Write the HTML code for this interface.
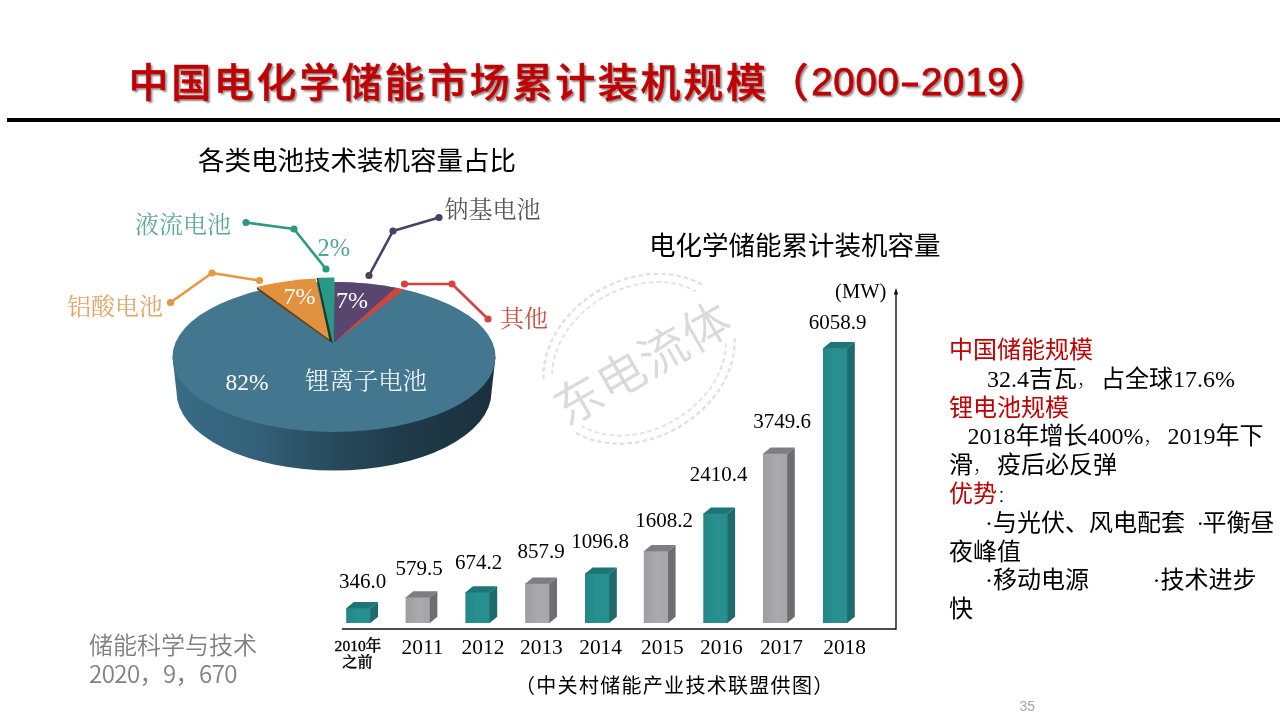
<!DOCTYPE html>
<html lang="zh-CN">
<head>
<meta charset="utf-8">
<title>中国电化学储能市场累计装机规模</title>
<style>
html,body{margin:0;padding:0;background:#fff;}
body{width:1280px;height:720px;position:relative;overflow:hidden;font-family:"Liberation Sans","Noto Sans CJK SC",sans-serif;}
.abs{position:absolute;white-space:nowrap;}
#title{left:128.5px;top:50px;font-size:40px;letter-spacing:2.67px;line-height:60px;font-weight:500;-webkit-text-stroke:0.5px #c00000;color:#c00000;text-shadow:2px 2px 2px rgba(0,0,0,.45);font-family:"Noto Sans CJK SC","Liberation Sans",sans-serif;}
#title .num{font-family:"Liberation Sans",sans-serif;font-size:38.3px;font-weight:normal;letter-spacing:0.8px;-webkit-text-stroke:0.75px #c00000;position:relative;top:-2px;}
#title .dash{display:inline-block;width:21.3px;text-align:center;transform:scaleX(1.6);}
#rule{left:7px;top:118px;width:1273px;height:4px;background:#000;}
.sub{font-size:26.5px;line-height:34px;color:#000;font-family:"Liberation Sans","Noto Sans CJK SC",sans-serif;}
#sub1{left:198px;top:144px;}
#sub2{left:649px;top:229px;}
#src{left:89px;top:629px;font-size:24px;line-height:29px;color:#808080;font-weight:350;font-family:"Noto Sans CJK SC","Liberation Sans",sans-serif;}
#src .n{letter-spacing:-0.55px;}
#cap{left:515px;top:672px;font-size:20px;line-height:28px;letter-spacing:1.3px;color:#000;font-family:"Liberation Sans","Noto Sans CJK SC",sans-serif;}
#pn{left:1019.5px;top:697.5px;font-size:14px;line-height:16px;color:#a6a6a6;}
#notes{left:949px;top:336px;width:331px;font-size:24px;line-height:28.8px;color:#000;white-space:pre;font-family:"Liberation Serif","Noto Sans CJK SC",serif;}
#notes .r{color:#c00000;}
#notes .p{display:inline-block;width:24px;font-size:18px;line-height:14px;font-weight:300;color:#222;}
#notes .sp{display:inline-block;height:1px;}
svg{position:absolute;left:0;top:0;}
</style>
</head>
<body>
<div id="title" class="abs">中国电化学储能市场累计装机规模（<span class="num">2000<span class="dash">-</span>2019</span>）</div>
<div id="rule" class="abs"></div>
<div id="sub1" class="abs sub">各类电池技术装机容量占比</div>
<div id="sub2" class="abs sub">电化学储能累计装机容量</div>
<svg id="chart" width="1280" height="720" viewBox="0 0 1280 720">
<defs>
<linearGradient id="gSide" gradientUnits="userSpaceOnUse" x1="172" y1="0" x2="496" y2="0">
<stop offset="0" stop-color="#3a6c85"/><stop offset="0.25" stop-color="#33617a"/><stop offset="0.5" stop-color="#284a5c"/><stop offset="0.72" stop-color="#1f3a49"/><stop offset="1" stop-color="#1b303c"/>
</linearGradient>
<linearGradient id="gTeal" x1="0" y1="0" x2="1" y2="0">
<stop offset="0" stop-color="#248686"/><stop offset="0.55" stop-color="#299090"/><stop offset="1" stop-color="#288d8d"/>
</linearGradient>
<linearGradient id="gGrey" x1="0" y1="0" x2="1" y2="0">
<stop offset="0" stop-color="#9d9da2"/><stop offset="0.55" stop-color="#aaaaae"/><stop offset="1" stop-color="#a6a6aa"/>
</linearGradient>
</defs>
<g id="wm" transform="translate(639 358.8) rotate(-30)" fill="none" stroke="#e1e1e1" stroke-linecap="butt">
<g stroke-width="2.3" stroke-dasharray="4.6 3">
<path d="M-93 -30 A100.5 79 0 0 1 93 -30"/>
<path d="M93 30 A100.5 79 0 0 1 -93 30"/>
</g>
<g stroke-width="1.8" stroke-dasharray="4.6 3">
<path d="M-83 -30 A91 69.5 0 0 1 83 -30"/>
<path d="M83 30 A91 69.5 0 0 1 -83 30"/>
</g>
<text x="1" y="23" text-anchor="middle" font-family="'Noto Sans CJK SC','Liberation Sans',sans-serif" font-weight="350" font-size="48" letter-spacing="1" fill="#dadada" stroke="none">东电流体</text>
</g>
<g id="pie">
<path fill="url(#gSide)" d="M172.5 357 L176.5 392 A157.5 78.5 0 0 0 491.5 392 L495.5 357 Z"/>
<ellipse cx="334" cy="357" rx="161.5" ry="75" fill="#42778f"/>
<path fill="#d0463a" d="M333.5 343 L395 287.6 A161.5 75 0 0 1 404.5 289.5 Z"/>
<path fill="#584670" d="M333.5 343 L335 282.0 A161.5 75 0 0 1 395.5 287.7 Z"/>
<path fill="#6b3f10" d="M330.5 342 L257 289.5 L257 287 L330 338 Z"/>
<path fill="#e2923f" d="M330 340 L257 287 A161.5 75 0 0 1 315.5 278.6 Z"/>
<path fill="#123b32" d="M333 343.5 L329.6 341 L316.6 278 L319 278 Z"/>
<path fill="#2a9882" d="M332.7 342.5 L318 277.7 L334.4 277.5 L333.6 342.5 Z"/>
</g>
<path d="M246 222.5 L294 229 L326 269" fill="none" stroke="#2a9a80" stroke-width="2.6" stroke-linejoin="round"/>
<circle cx="246" cy="222.5" r="3.6" fill="#2a9a80"/>
<circle cx="294" cy="229" r="3.6" fill="#2a9a80"/>
<circle cx="326" cy="269" r="3.6" fill="#2a9a80"/>
<path d="M170.5 302.5 L212 273 L259.5 280.5" fill="none" stroke="#e8963f" stroke-width="2.6" stroke-linejoin="round"/>
<circle cx="170.5" cy="302.5" r="3.6" fill="#e8963f"/>
<circle cx="212" cy="273" r="3.6" fill="#e8963f"/>
<circle cx="259.5" cy="280.5" r="3.6" fill="#e8963f"/>
<path d="M439 217.5 L393 231 L369 275.5" fill="none" stroke="#4b3f63" stroke-width="2.6" stroke-linejoin="round"/>
<circle cx="439" cy="217.5" r="3.6" fill="#4b3f63"/>
<circle cx="393" cy="231" r="3.6" fill="#4b3f63"/>
<circle cx="369" cy="275.5" r="3.6" fill="#4b3f63"/>
<path d="M404.5 284 L452 284 L488 319" fill="none" stroke="#d2443f" stroke-width="2.6" stroke-linejoin="round"/>
<circle cx="404.5" cy="284" r="3.6" fill="#d2443f"/>
<circle cx="452" cy="284" r="3.6" fill="#d2443f"/>
<circle cx="488" cy="319" r="3.6" fill="#d2443f"/>
<text x="135" y="232.5" font-family="'Liberation Serif','Noto Serif CJK SC',serif" font-size="24" fill="#5fa898" text-anchor="start">液流电池</text>
<text x="67" y="315" font-family="'Liberation Serif','Noto Serif CJK SC',serif" font-size="24" fill="#e3a567" text-anchor="start">铝酸电池</text>
<text x="444.5" y="218" font-family="'Liberation Serif','Noto Serif CJK SC',serif" font-size="24" fill="#5a5560" text-anchor="start">钠基电池</text>
<text x="500" y="327" font-family="'Liberation Serif','Noto Serif CJK SC',serif" font-size="24" fill="#c4554a" text-anchor="start">其他</text>
<text x="333.7" y="256.3" font-family="'Liberation Serif','Noto Serif CJK SC',serif" font-size="24.4" fill="#4fa594" text-anchor="middle">2%</text>
<text x="299.4" y="304" font-family="'Liberation Serif','Noto Serif CJK SC',serif" font-size="24" fill="#fff" text-anchor="middle">7%</text>
<text x="352" y="308.4" font-family="'Liberation Serif','Noto Serif CJK SC',serif" font-size="24" fill="#fff" text-anchor="middle">7%</text>
<text x="247" y="389.8" font-family="'Liberation Serif','Noto Serif CJK SC',serif" font-size="23.5" fill="#fff" text-anchor="middle">82%</text>
<text x="305" y="388.5" font-family="'Liberation Serif','Noto Serif CJK SC',serif" font-size="24.4" fill="#fff" text-anchor="start" font-weight="300">锂离子电池</text>
<g id="bars">
<path fill="#1f6a6c" d="M369.4 608.3 L370.4 608.3 L378.0 602.1 L378.0 616.8 L370.4 623 L369.4 623 Z"/>
<path fill="#1d7577" d="M346.2 609.3 L346.2 608.3 L353.8 602.1 L378.0 602.1 L370.4 608.3 L370.4 609.3 Z"/>
<rect fill="url(#gTeal)" x="346.2" y="608.3" width="24.2" height="14.7"/>
<path fill="#6e6e72" d="M428.8 597.5 L429.8 597.5 L437.4 591.3 L437.4 616.8 L429.8 623 L428.8 623 Z"/>
<path fill="#7e7e82" d="M405.6 598.5 L405.6 597.5 L413.2 591.3 L437.4 591.3 L429.8 597.5 L429.8 598.5 Z"/>
<rect fill="url(#gGrey)" x="405.6" y="597.5" width="24.2" height="25.5"/>
<path fill="#1f6a6c" d="M488.6 592.5 L489.6 592.5 L497.2 586.3 L497.2 616.8 L489.6 623 L488.6 623 Z"/>
<path fill="#1d7577" d="M465.4 593.5 L465.4 592.5 L473.0 586.3 L497.2 586.3 L489.6 592.5 L489.6 593.5 Z"/>
<rect fill="url(#gTeal)" x="465.4" y="592.5" width="24.2" height="30.5"/>
<path fill="#6e6e72" d="M548.4 583.8 L549.4 583.8 L557.0 577.6 L557.0 616.8 L549.4 623 L548.4 623 Z"/>
<path fill="#7e7e82" d="M525.2 584.8 L525.2 583.8 L532.8 577.6 L557.0 577.6 L549.4 583.8 L549.4 584.8 Z"/>
<rect fill="url(#gGrey)" x="525.2" y="583.8" width="24.2" height="39.2"/>
<path fill="#1f6a6c" d="M608.2 573.8 L609.2 573.8 L616.8 567.6 L616.8 616.8 L609.2 623 L608.2 623 Z"/>
<path fill="#1d7577" d="M585 574.8 L585 573.8 L592.6 567.6 L616.8 567.6 L609.2 573.8 L609.2 574.8 Z"/>
<rect fill="url(#gTeal)" x="585" y="573.8" width="24.2" height="49.2"/>
<path fill="#6e6e72" d="M667.0 551.3 L668.0 551.3 L675.6 545.1 L675.6 616.8 L668.0 623 L667.0 623 Z"/>
<path fill="#7e7e82" d="M643.8 552.3 L643.8 551.3 L651.4 545.1 L675.6 545.1 L668.0 551.3 L668.0 552.3 Z"/>
<rect fill="url(#gGrey)" x="643.8" y="551.3" width="24.2" height="71.7"/>
<path fill="#1f6a6c" d="M726.5 513.8 L727.5 513.8 L735.1 507.6 L735.1 616.8 L727.5 623 L726.5 623 Z"/>
<path fill="#1d7577" d="M703.3 514.8 L703.3 513.8 L710.9 507.6 L735.1 507.6 L727.5 513.8 L727.5 514.8 Z"/>
<rect fill="url(#gTeal)" x="703.3" y="513.8" width="24.2" height="109.2"/>
<path fill="#6e6e72" d="M786.2 453.7 L787.2 453.7 L794.8 447.5 L794.8 616.8 L787.2 623 L786.2 623 Z"/>
<path fill="#7e7e82" d="M763 454.7 L763 453.7 L770.6 447.5 L794.8 447.5 L787.2 453.7 L787.2 454.7 Z"/>
<rect fill="url(#gGrey)" x="763" y="453.7" width="24.2" height="169.3"/>
<path fill="#1f6a6c" d="M846.2 348.3 L847.2 348.3 L854.8 342.1 L854.8 616.8 L847.2 623 L846.2 623 Z"/>
<path fill="#1d7577" d="M823 349.3 L823 348.3 L830.6 342.1 L854.8 342.1 L847.2 348.3 L847.2 349.3 Z"/>
<rect fill="url(#gTeal)" x="823" y="348.3" width="24.2" height="274.7"/>
</g>
<path d="M342 629 H896" fill="none" stroke="#111" stroke-width="1.7"/>
<path d="M896 629.8 V293" fill="none" stroke="#111" stroke-width="1.4"/>
<path d="M896 288 L893.8 294.5 L898.2 294.5 Z" fill="#111"/>
<text x="362.5" y="587.5" font-family="'Liberation Serif','Noto Serif CJK SC',serif" font-size="21" fill="#000" text-anchor="middle">346.0</text>
<text x="419" y="575" font-family="'Liberation Serif','Noto Serif CJK SC',serif" font-size="21" fill="#000" text-anchor="middle">579.5</text>
<text x="478.5" y="568.8" font-family="'Liberation Serif','Noto Serif CJK SC',serif" font-size="21" fill="#000" text-anchor="middle">674.2</text>
<text x="541" y="558" font-family="'Liberation Serif','Noto Serif CJK SC',serif" font-size="21" fill="#000" text-anchor="middle">857.9</text>
<text x="600" y="547.5" font-family="'Liberation Serif','Noto Serif CJK SC',serif" font-size="21" fill="#000" text-anchor="middle">1096.8</text>
<text x="664" y="527" font-family="'Liberation Serif','Noto Serif CJK SC',serif" font-size="21" fill="#000" text-anchor="middle">1608.2</text>
<text x="718.6" y="480.8" font-family="'Liberation Serif','Noto Serif CJK SC',serif" font-size="21" fill="#000" text-anchor="middle">2410.4</text>
<text x="782" y="428" font-family="'Liberation Serif','Noto Serif CJK SC',serif" font-size="21" fill="#000" text-anchor="middle">3749.6</text>
<text x="837.5" y="328.8" font-family="'Liberation Serif','Noto Serif CJK SC',serif" font-size="21" fill="#000" text-anchor="middle">6058.9</text>
<text x="422.5" y="654.2" font-family="'Liberation Serif','Noto Serif CJK SC',serif" font-size="21.4" fill="#000" text-anchor="middle">2011</text>
<text x="483" y="654.2" font-family="'Liberation Serif','Noto Serif CJK SC',serif" font-size="21.4" fill="#000" text-anchor="middle">2012</text>
<text x="541.4" y="654.2" font-family="'Liberation Serif','Noto Serif CJK SC',serif" font-size="21.4" fill="#000" text-anchor="middle">2013</text>
<text x="600.6" y="654.2" font-family="'Liberation Serif','Noto Serif CJK SC',serif" font-size="21.4" fill="#000" text-anchor="middle">2014</text>
<text x="662.4" y="654.2" font-family="'Liberation Serif','Noto Serif CJK SC',serif" font-size="21.4" fill="#000" text-anchor="middle">2015</text>
<text x="721.4" y="654.2" font-family="'Liberation Serif','Noto Serif CJK SC',serif" font-size="21.4" fill="#000" text-anchor="middle">2016</text>
<text x="781.5" y="654.2" font-family="'Liberation Serif','Noto Serif CJK SC',serif" font-size="21.4" fill="#000" text-anchor="middle">2017</text>
<text x="844.6" y="654.2" font-family="'Liberation Serif','Noto Serif CJK SC',serif" font-size="21.4" fill="#000" text-anchor="middle">2018</text>
<text x="358" y="650.5" font-family="'Liberation Serif','Noto Serif CJK SC',serif" font-size="15.6" fill="#000" text-anchor="middle" font-weight="500" stroke="#000" stroke-width="0.35">2010年</text>
<text x="357.5" y="667.3" font-family="'Liberation Serif','Noto Serif CJK SC',serif" font-size="15.2" fill="#000" text-anchor="middle" font-weight="500" stroke="#000" stroke-width="0.35">之前</text>
<text x="860.7" y="297.5" font-family="'Liberation Serif','Noto Serif CJK SC',serif" font-size="20.5" fill="#000" text-anchor="middle">(MW)</text>
</svg>
<div id="notes" class="abs"><span class="r">中国储能规模</span>
<span class="sp" style="width:38px"></span>32.4吉瓦<span class="p">，</span>占全球17.6%
<span class="r">锂电池规模</span>
<span class="sp" style="width:18.5px"></span>2018年增长400%<span class="p">，</span>2019年下
滑<span class="p">，</span>疫后必反弹
<span class="r">优势</span><span class="p">：</span>
<span class="sp" style="width:36px"></span>·与光伏、风电配套<span class="sp" style="width:11.2px"></span><span style="letter-spacing:-1.6px">·</span>平衡昼
夜峰值
<span class="sp" style="width:36px"></span>·移动电源<span class="sp" style="width:63.5px"></span>·技术进步
快</div>
<div id="src" class="abs">储能科学与技术<br><span class="n">2020，9，670</span></div>
<div id="cap" class="abs">（中关村储能产业技术联盟供图）</div>
<div id="pn" class="abs">35</div>
</body>
</html>
